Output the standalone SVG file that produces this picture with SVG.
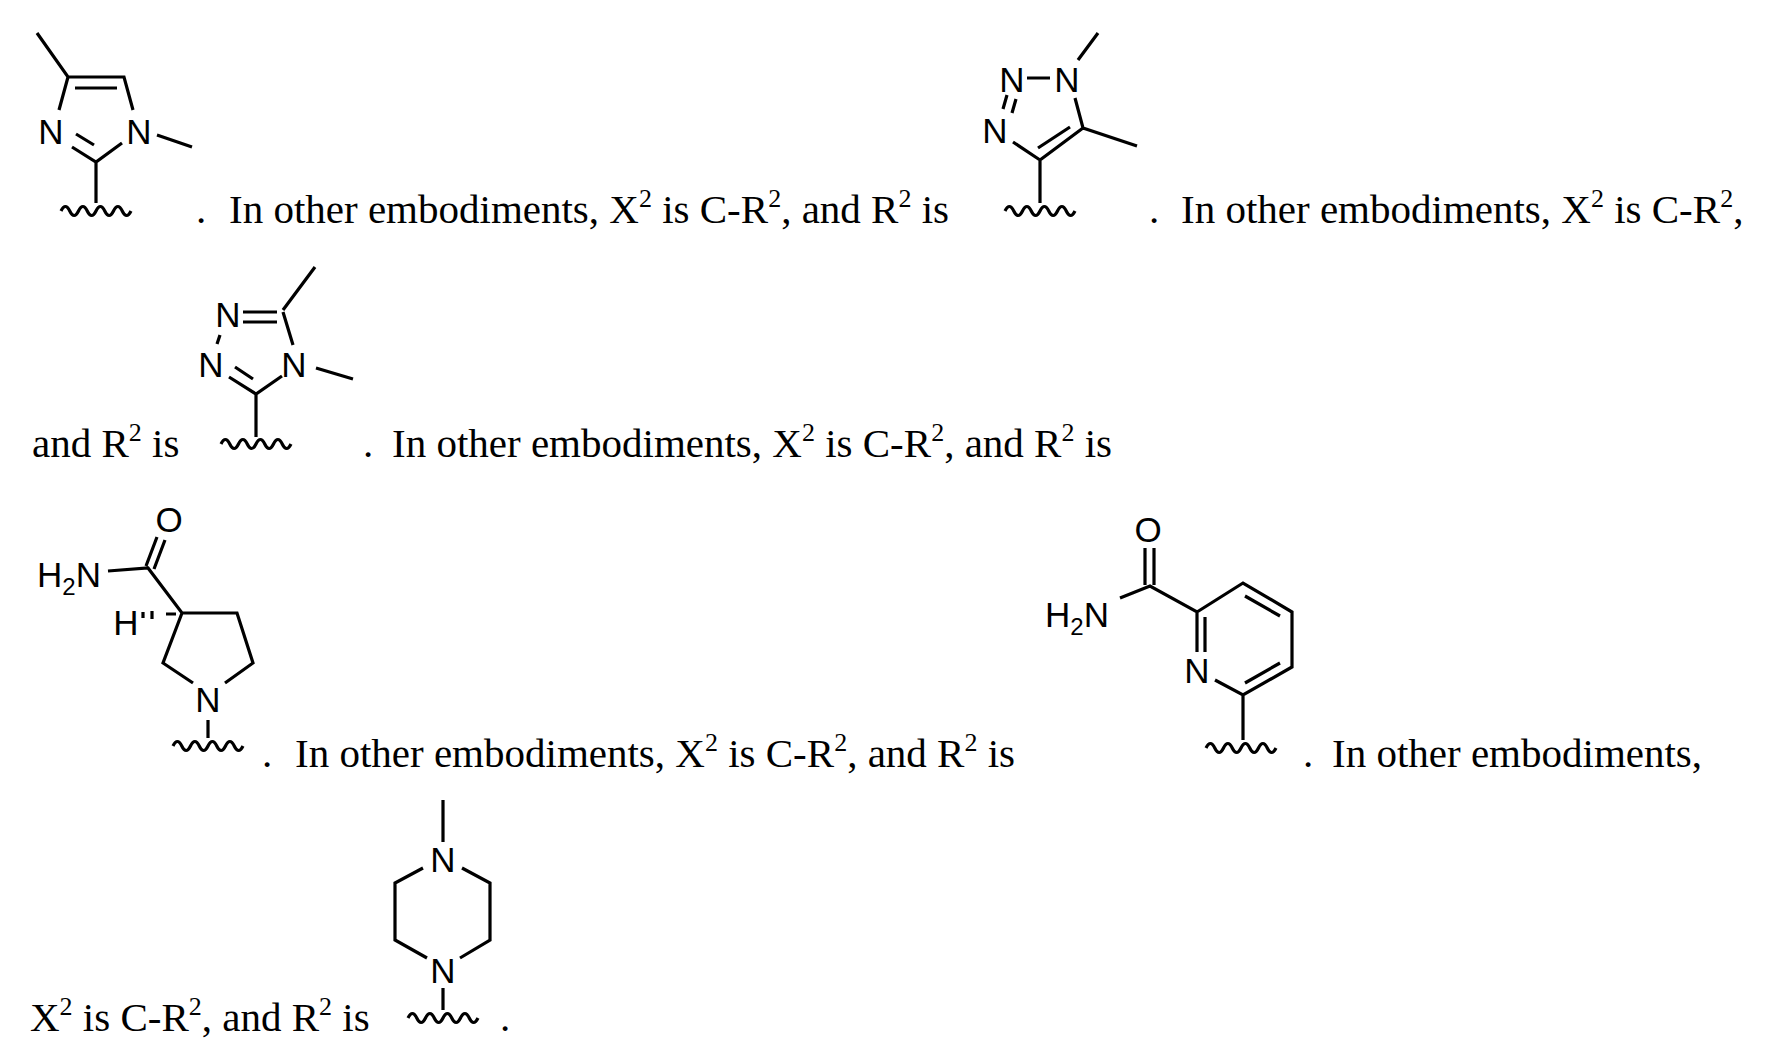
<svg xmlns="http://www.w3.org/2000/svg" xmlns:xlink="http://www.w3.org/1999/xlink" width="1792" height="1061" viewBox="0 0 1792 1061">
<style>
.t{font-family:"Liberation Serif",serif;font-size:41px;fill:#000}
.s{font-size:26px}
.a{font-family:"Liberation Sans",Arial,sans-serif;font-size:35px;fill:#000;text-anchor:middle}
.a2{font-family:"Liberation Sans",Arial,sans-serif;font-size:35px;fill:#000}
.b{stroke:#000;stroke-width:3.2;fill:none;stroke-linecap:butt}
</style>
<defs>
<path id="w" d="M-35,0 q4.4,-9 8.75,0 t8.75,0 t8.75,0 t8.75,0 t8.75,0 t8.75,0 t8.75,0 t8.75,0" class="b" stroke-width="2.6"/>
</defs>
<rect width="1792" height="1061" fill="#fff"/>
<g id="text">
<text class="t" x="196" y="223">.</text>
<text class="t" x="229" y="223">In other embodiments, X<tspan class="s" dy="-16">2</tspan><tspan dy="16"> is C-R</tspan><tspan class="s" dy="-16">2</tspan><tspan dy="16">, and R</tspan><tspan class="s" dy="-16">2</tspan><tspan dy="16"> is</tspan></text>
<text class="t" x="1149" y="223">.</text>
<text class="t" x="1181" y="223">In other embodiments, X<tspan class="s" dy="-16">2</tspan><tspan dy="16"> is C-R</tspan><tspan class="s" dy="-16">2</tspan><tspan dy="16">,</tspan></text>
<text class="t" x="32" y="457">and R<tspan class="s" dy="-16">2</tspan><tspan dy="16"> is</tspan></text>
<text class="t" x="363" y="457">.</text>
<text class="t" x="392" y="457">In other embodiments, X<tspan class="s" dy="-16">2</tspan><tspan dy="16"> is C-R</tspan><tspan class="s" dy="-16">2</tspan><tspan dy="16">, and R</tspan><tspan class="s" dy="-16">2</tspan><tspan dy="16"> is</tspan></text>
<text class="t" x="262" y="767">.</text>
<text class="t" x="295" y="767">In other embodiments, X<tspan class="s" dy="-16">2</tspan><tspan dy="16"> is C-R</tspan><tspan class="s" dy="-16">2</tspan><tspan dy="16">, and R</tspan><tspan class="s" dy="-16">2</tspan><tspan dy="16"> is</tspan></text>
<text class="t" x="1303" y="767">.</text>
<text class="t" x="1332" y="767">In other embodiments,</text>
<text class="t" x="30" y="1031">X<tspan class="s" dy="-16">2</tspan><tspan dy="16"> is C-R</tspan><tspan class="s" dy="-16">2</tspan><tspan dy="16">, and R</tspan><tspan class="s" dy="-16">2</tspan><tspan dy="16"> is</tspan></text>
<text class="t" x="500" y="1031">.</text>
</g>
<g id="imidazole">
<path class="b" d="M37,33 L68,77 L124,77 L133,110 M68,77 L59,110 M75,88 L117,88 M157,135 L192,147 M72,147 L96,162 L122,143 M76,134 L94,145 M96,162 L96,203"/>
<text class="a" x="51" y="144">N</text>
<text class="a" x="139" y="144">N</text>
<use xlink:href="#w" x="96" y="211"/>
</g>
<g id="triazole123">
<path class="b" d="M1027,78 L1050,78 M1078,60 L1098,33 M1075,98 L1083,128 L1137,146 M1083,128 L1040,160 M1070,127 L1038,148 M1003,109 L1007,95 M1012,113 L1016,99 M1013,142 L1040,160 L1040,203"/>
<text class="a" x="1012" y="92">N</text>
<text class="a" x="1067" y="92">N</text>
<text class="a" x="995" y="143">N</text>
<use xlink:href="#w" x="1040" y="211"/>
</g>
<g id="triazole124">
<path class="b" d="M243,312 L277,312 M243,322 L277,322 M283,310 L315,267 M283,312 L293,345 M316,368 L353,379 M220,335 L217,344 M229,377 L256,394 L282,376 M235,367 L253,379 M256,394 L256,437"/>
<text class="a" x="228" y="327">N</text>
<text class="a" x="211" y="377">N</text>
<text class="a" x="294" y="377">N</text>
<use xlink:href="#w" x="256" y="444"/>
</g>
<g id="pyrrolidine">
<path class="b" d="M146,566 L157,537 M154,569 L165,540 M108,571 L148,568 L182,613 L237,613 L253,663 L225,683 M182,613 L163,663 L193,683 M208,720 L208,738"/>
<path class="b" stroke-width="2.4" d="M143,612 L143,618 M152,611 L152,619 M166,614 L176,614"/>
<text class="a" x="169" y="532">O</text>
<text class="a2" x="37" y="587">H<tspan font-size="24" dy="8">2</tspan><tspan dy="-8">N</tspan></text>
<text class="a" x="126" y="635">H</text>
<text class="a" x="208" y="712">N</text>
<use xlink:href="#w" x="208" y="746"/>
</g>
<g id="picolinamide">
<path class="b" d="M1145,548 L1145,585 M1154,548 L1154,585 M1120,598 L1150,586 L1197,612 L1243,583 L1292,612 L1292,667 L1243,695 L1215,680 M1245,596 L1280,616 M1280,663 L1245,683 M1197,612 L1197,652 M1205,617 L1205,652 M1243,695 L1243,740"/>
<text class="a" x="1148" y="542">O</text>
<text class="a2" x="1045" y="627">H<tspan font-size="24" dy="8">2</tspan><tspan dy="-8">N</tspan></text>
<text class="a" x="1197" y="683">N</text>
<use xlink:href="#w" x="1241" y="748"/>
</g>
<g id="piperazine">
<path class="b" d="M443,800 L443,842 M423,868 L395,883 L395,940 L427,958 M462,868 L490,883 L490,940 L460,958 M443,988 L443,1010"/>
<text class="a" x="443" y="872">N</text>
<text class="a" x="443" y="983">N</text>
<use xlink:href="#w" x="443" y="1018"/>
</g>
</svg>
